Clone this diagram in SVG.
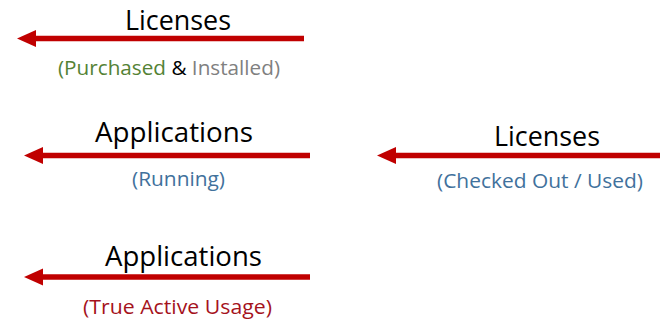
<svg xmlns="http://www.w3.org/2000/svg" width="660" height="324" viewBox="0 0 660 324">
<style>
.title{font-family:"Open Sans","Liberation Sans",sans-serif;font-size:27.5px;fill:#000;text-anchor:start}
.sub{font-family:"Open Sans","Liberation Sans",sans-serif;font-size:20.5px;text-anchor:start}
.arrow{stroke:#C00000;stroke-width:5.5;fill:none;marker-start:url(#head)}
</style>
<defs>
<marker id="head" markerUnits="userSpaceOnUse" markerWidth="20" markerHeight="18" viewBox="0 -9 20 18" refX="4" refY="0" orient="auto-start-reverse">
<path d="M0,-8.5 L19,0 L0,8.5 z" fill="#C00000"/>
</marker>
</defs>
<rect width="660" height="324" fill="#fff"/>
<g id="connectors">
<line class="arrow" x1="32" y1="38.5" x2="304" y2="38.5"/>
<line class="arrow" x1="39" y1="155.5" x2="310" y2="155.5"/>
<line class="arrow" x1="392" y1="155.5" x2="660" y2="155.5"/>
<line class="arrow" x1="39" y1="277" x2="310" y2="277"/>
</g>
<g id="licenses-purchased">
<text class="title" x="125" y="29.5" textLength="106" lengthAdjust="spacingAndGlyphs">Licenses</text>
<text class="sub" x="58" y="74.5" textLength="222" lengthAdjust="spacingAndGlyphs"><tspan fill="#548235">(Purchased</tspan><tspan fill="#000"> &amp; </tspan><tspan fill="#808080">Installed)</tspan></text>
</g>
<g id="applications-running">
<text class="title" x="95" y="141.5" textLength="158" lengthAdjust="spacingAndGlyphs">Applications</text>
<text class="sub" x="132" y="185.5" textLength="93" lengthAdjust="spacingAndGlyphs" fill="#41719C">(Running)</text>
</g>
<g id="licenses-checked-out">
<text class="title" x="494" y="145.5" textLength="106" lengthAdjust="spacingAndGlyphs">Licenses</text>
<text class="sub" x="437" y="187.5" textLength="206" lengthAdjust="spacingAndGlyphs" fill="#41719C">(Checked Out / Used)</text>
</g>
<g id="applications-true-active">
<text class="title" x="105" y="265.5" textLength="157" lengthAdjust="spacingAndGlyphs">Applications</text>
<text class="sub" x="83" y="313.5" textLength="189" lengthAdjust="spacingAndGlyphs" fill="#A5121C">(True Active Usage)</text>
</g>
</svg>
